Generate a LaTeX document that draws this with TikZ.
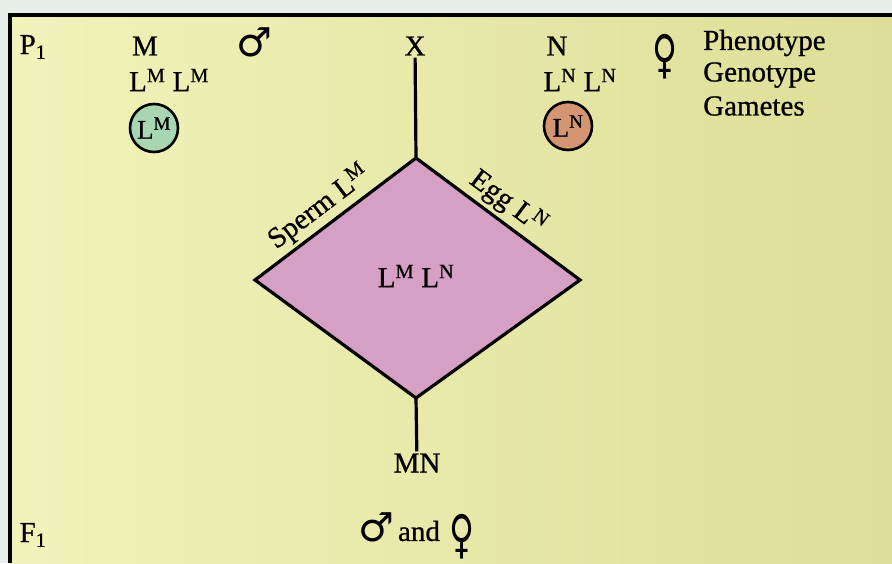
\documentclass[tikz,border=0pt]{standalone}
\usepackage{fontspec}
\setmainfont[RawFeature={embolden=0.8}]{Liberation Serif}
\newfontfamily\symfont{DejaVu Sans}
\definecolor{pagec}{RGB}{232,238,234}
\definecolor{bgL}{RGB}{240,243,186}
\definecolor{bgR}{RGB}{222,222,152}
\definecolor{pinkc}{RGB}{214,160,196}
\definecolor{greenc}{RGB}{168,214,178}
\definecolor{orangec}{RGB}{212,150,114}
\newcommand{\Lsup}[1]{L\textsuperscript{#1}}
\begin{document}
\begin{tikzpicture}[x=1pt,y=-1pt,
  lbl/.style={font=\fontsize{29}{32}\selectfont, inner sep=2pt},
  sym/.style={font=\symfont\fontsize{40}{44}\selectfont, inner sep=0pt},
  gamete/.style={circle, draw, line width=2.6pt, minimum size=48pt, inner sep=0pt, font=\fontsize{27}{30}\selectfont},
  link/.style={line width=3.2pt}]
\useasboundingbox (0,0) rectangle (892,563);
\fill[pagec] (0,0) rectangle (892,563);
\shade[left color=bgL, right color=bgR] (10,15) rectangle (892,563);
\draw[line width=3.2pt] (10,563) -- (10,15) -- (892,15);

% P1 row
\node[lbl] (p1) at (33,47) {P\textsubscript{1}};
\node[lbl] (m) at (145,46) {M};
\node[sym] (male1) at (254,42) {♂};
\node[lbl] (x) at (415,46) {X};
\node[lbl] (n) at (557,46) {N};
\node[sym, font=\symfont\fontsize{36}{40}\selectfont] (fem1) at (665,57) {\scalebox{0.95}[1.45]{♀}};
\node[lbl, anchor=west] (pheno) at (701,43) {Phenotype};
\node[lbl, anchor=west] (geno) at (701,75) {Genotype};
\node[lbl, anchor=west] (gam) at (701,106) {Gametes};

\node[lbl] (gm) at (169,80) {\Lsup{M} \Lsup{M}};
\node[lbl] (gn) at (580,80) {\Lsup{N} \Lsup{N}};
\node[gamete, fill=greenc] (cm) at (154,128) {\Lsup{M}};
\node[gamete, fill=orangec] (cn) at (568,126) {\Lsup{N}};

% Diamond
\coordinate (dT) at (416,158);
\coordinate (dR) at (580,280);
\coordinate (dB) at (416,398);
\coordinate (dL) at (255,280);
\draw[link, fill=pinkc, line join=miter] (dT) -- (dR) -- (dB) -- (dL) -- cycle;
\node[lbl] (lmln) at (416,276) {\Lsup{M} \Lsup{N}};
\path (dL) -- (dT) node[lbl, pos=0.47, sloped, above=3pt] (sperm) {Sperm \Lsup{M}};
\path (dT) -- (dR) node[lbl, pos=0.49, sloped, above=3pt] (egg) {Egg \Lsup{N}};

\node[lbl] (mn) at (417,463) {MN};
\draw[link] (x) -- (dT);
\draw[link] (dB) -- (mn);

% F1 row
\node[lbl] (f1) at (33,535) {F\textsubscript{1}};
\node[sym] (male2) at (376,527) {♂};
\node[lbl] (and) at (419,531) {and};
\node[sym, font=\symfont\fontsize{36}{40}\selectfont] (fem2) at (462,537) {\scalebox{0.95}[1.45]{♀}};
\end{tikzpicture}
\end{document}
